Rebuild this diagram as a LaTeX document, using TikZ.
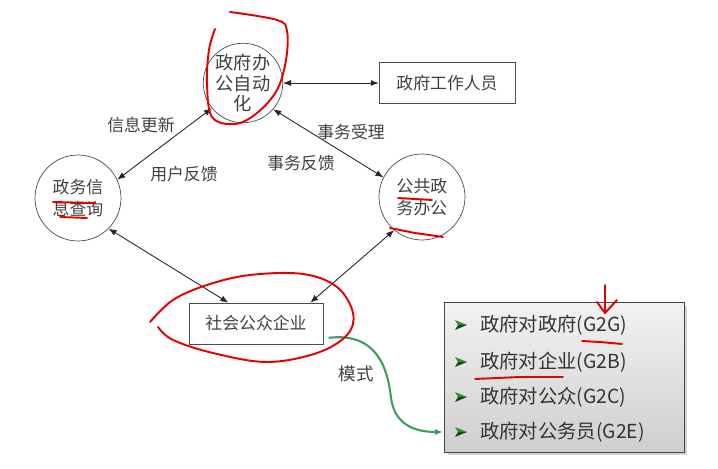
\documentclass[tikz,border=0pt]{standalone}
\usepackage{fontspec}
\setmainfont{Noto Sans CJK SC}
\usetikzlibrary{arrows.meta,shadows}
\definecolor{modegreen}{RGB}{62,158,98}

\begin{document}
\begin{tikzpicture}[x=0.02cm, y=-0.02cm, >={Latex[length=4.5pt,width=3.5pt]},
    bubble/.style={draw=gray!60!black, circle, inner sep=0pt, align=center,
        text=black!75, font=\fontsize{9.6}{12.5}\selectfont},
    rectbox/.style={draw=gray!60!black, minimum height=0.82cm, text=black!75,
        font=\fontsize{9.6}{12}\selectfont},
    link/.style={<->, gray!30!black, line width=0.5pt},
    tag/.style={text=black!75, font=\fontsize{9.6}{12}\selectfont},
    item/.style={anchor=west, text=black!80, font=\fontsize{11}{13}\selectfont},
    scribble/.style={red!90!black, line width=1.1pt, line cap=round, line join=round}]
    \useasboundingbox (0,0) rectangle (718,469);

    \node[bubble, minimum size=1.56cm, font=\fontsize{10.4}{11.6}\selectfont] (oa) at (243,83) {政府办\\公自动\\化};
    \node[bubble, minimum size=1.72cm] (query) at (78,198) {政务信\\息查询};
    \node[bubble, minimum size=1.72cm] (office) at (422,197) {公共政\\务办公};
    \node[rectbox, minimum width=2.72cm] (staff) at (447,83) {政府工作人员};
    \node[rectbox, minimum width=2.68cm] (public) at (256,323.5) {社会公众企业};

    \draw[link] (oa) -- (staff);
    \draw[link] (oa.219) -- (query.25);
    \draw[link] (oa.319) -- (office.153);
    \draw[link] (query.315) -- (public.143);
    \draw[link] (office.230) -- (public.21);

    \node[tag] (upd) at (141,125) {信息更新};
    \node[tag] (fbk) at (184,174) {用户反馈};
    \node[tag] (acc) at (351,132) {事务受理};
    \node[tag] (res) at (301,163) {事务反馈};

    \node[draw=gray!55!black, top color=gray!10, bottom color=gray!38,
        drop shadow={opacity=0.35, shadow xshift=2pt, shadow yshift=-2pt},
        minimum width=4.8cm, minimum height=3cm] (modes) at (564,377) {};
    \foreach \y/\t [count=\i] in {325/政府对政府(G2G), 362/政府对企业(G2B),
                                  397/政府对公众(G2C), 432/政府对公务员(G2E)} {
        \fill[green!45!black!80] (455,\y-5) -- (467,\y) -- (458,\y) -- cycle;
        \fill[green!35!black] (455,\y+5) -- (467,\y) -- (458,\y) -- cycle;
        \node[item] (m\i) at (474,\y) {\t};
    }

    \coordinate (modeend) at (443,432);
    \draw[->, modegreen, line width=1.2pt] ([xshift=3pt]public.-12) .. controls (378,332) and (388,370) .. (391,398)
        .. controls (395,428) and (420,432) .. (modeend);
    \node[tag, font=\fontsize{10}{12}\selectfont] (mode) at (356,374) {模式};

    % hand marks
    \draw[scribble] plot[smooth, tension=0.6] coordinates {(230,12) (277,20) (287,31) (286,60) (277,90)
        (257,113) (235,124) (212,117) (207,83) (209,50) (215,29)};
    \draw[scribble] (53,202) -- (95,203);
    \draw[scribble] (60,217) -- (87,218);
    \draw[scribble] (398,198) -- (432,200);
    \draw[scribble] (390,228) -- (415,233) -- (443,237);
    \draw[scribble] plot[smooth, tension=0.6] coordinates {(150,322) (173,300) (207,285) (250,275)
        (303,274) (337,287) (353,313) (347,335) (317,353) (267,362) (213,353) (173,340) (158,327)};
    \draw[scribble] (605,285) -- (605,312);
    \draw[scribble] (597,302) -- (605,313) -- (617,300);
    \draw[scribble] (582,341) -- (600,342) -- (622,344);
    \draw[scribble] (475,379) -- (520,377) -- (563,377);
\end{tikzpicture}
\end{document}
